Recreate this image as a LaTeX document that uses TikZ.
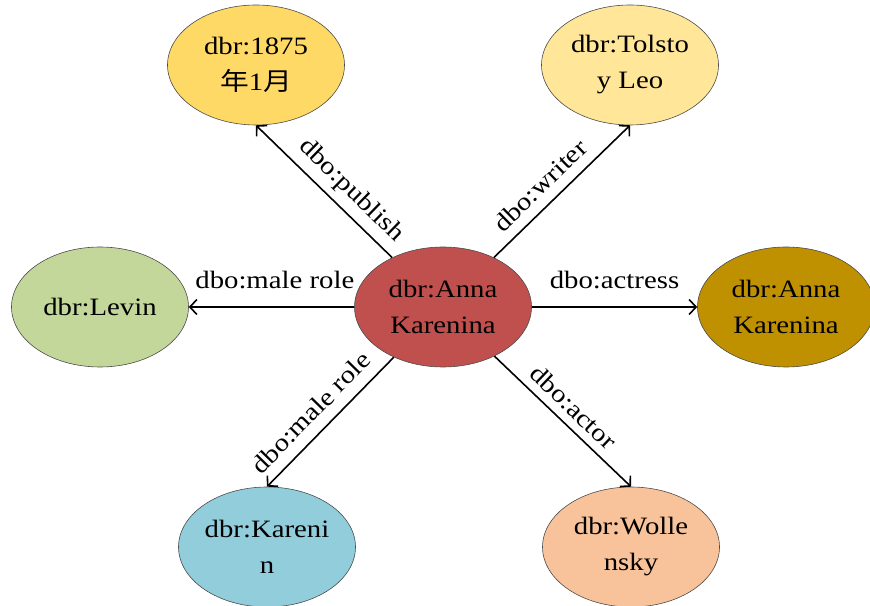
\documentclass[tikz,border=0pt]{standalone}
\usepackage{fontspec}
\setmainfont{Liberation Serif}[FakeStretch=1.15]
\newfontfamily\cjkfont{Noto Sans CJK SC}[FakeStretch=1.15]
\usepackage{xcolor}
\usepackage{tikz}
\usetikzlibrary{arrows.meta,positioning,shapes.geometric}
\definecolor{hubred}{HTML}{C0504D}
\definecolor{yeardark}{HTML}{FFD966}
\definecolor{yearlight}{HTML}{FFE699}
\definecolor{levgreen}{HTML}{C4D79B}
\definecolor{filmgold}{HTML}{BF9000}
\definecolor{karblue}{HTML}{92CDDC}
\definecolor{wolpeach}{HTML}{F8C39B}
\tikzset{
  ent/.style  ={ellipse,draw=black!70,line width=0.6pt,minimum width=177pt,
                minimum height=120pt,inner sep=0pt,align=center,
                font=\fontsize{25}{36}\selectfont},
  rel/.style  ={-{Straight Barb[length=7pt,width=15pt]},line width=1.6pt},
  rlab/.style ={font=\fontsize{25}{30}\selectfont,inner sep=2pt},
}

\begin{document}
\begin{tikzpicture}[x=1pt,y=1pt]
  \useasboundingbox (0,0) rectangle (870,605);
  \node[ent,fill=hubred]    (anna) at (443,298){dbr:Anna\\Karenina};
  \node[ent,fill=yeardark]  (year) at (256,540){dbr:1875\\{\cjkfont 年}1{\cjkfont 月}};
  \node[ent,fill=yearlight] (tol)  at (630,540){dbr:Tolsto\\y Leo};
  \node[ent,fill=levgreen]  (lev)  at (100,298){dbr:Levin};
  \node[ent,fill=filmgold]  (film) at (786,298){dbr:Anna\\Karenina};
  \node[ent,fill=karblue]   (kar)  at (267,58){dbr:Kareni\\n};
  \node[ent,fill=wolpeach]  (wol)  at (631,58){dbr:Wolle\\nsky};
  % relations
  \draw[rel] (anna) -- (year.south) node[rlab,pos=0.4,sloped,above=5pt]{dbo:publish};
  \draw[rel] (anna) -- (tol.south) node[rlab,pos=0.44,sloped,above=8pt]{dbo:writer};
  \draw[rel] (anna) -- (lev) node[rlab,pos=0.48,above=15pt]{dbo:male role};
  \draw[rel] (anna) -- (film) node[rlab,midway,above=15pt]{dbo:actress};
  \draw[rel] (anna) -- (kar.north) node[rlab,pos=0.54,sloped,above=9pt]{dbo:male role};
  \draw[rel] (anna) -- (wol.north) node[rlab,pos=0.49,sloped,above=6pt]{dbo:actor};
\end{tikzpicture}
\end{document}
